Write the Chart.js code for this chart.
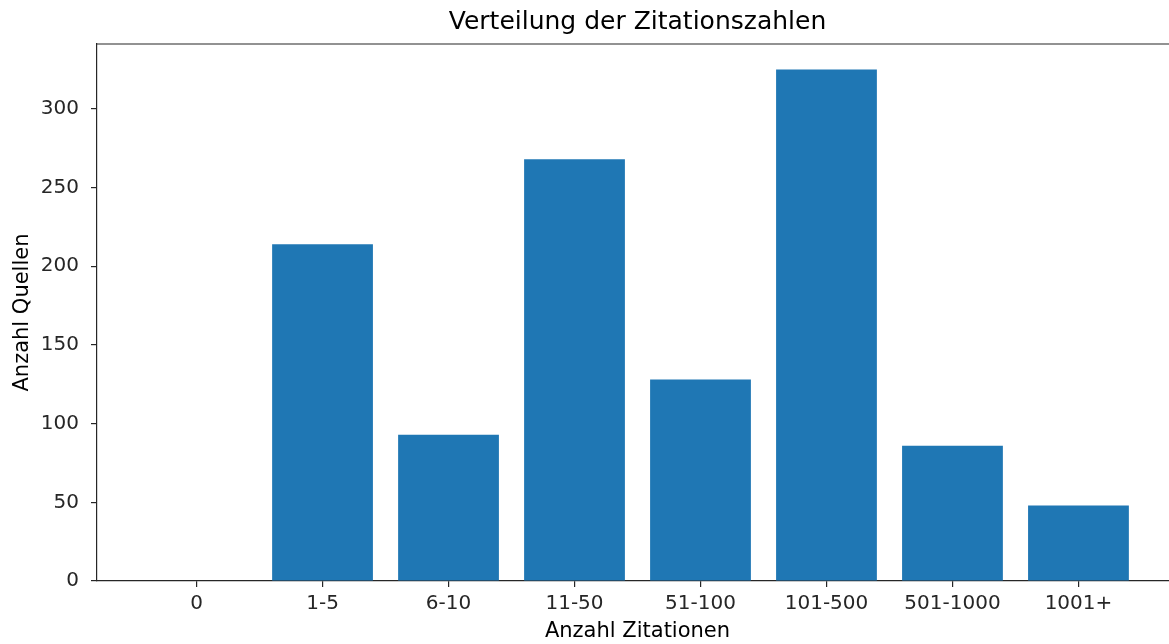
<!DOCTYPE html>
<html>
<head>
<meta charset="utf-8">
<script src="https://cdn.jsdelivr.net/npm/chart.js@4/dist/chart.umd.min.js"></script>
<style>
  html, body { margin: 0; padding: 0; background: #fff; overflow: hidden; }
  #wrap { width: 1178px; height: 644px; }
</style>
</head>
<body>
<div id="wrap"><canvas id="myChart" width="1178" height="644"></canvas></div>
<script>
const categories = ['0', '1-5', '6-10', '11-50', '51-100', '101-500', '501-1000', '1001+'];
const counts = [0, 214, 93, 268, 128, 325, 86, 48];
const yTicks = [0, 50, 100, 150, 200, 250, 300];

const ink = '#262626';
const font = "'DejaVu Sans', sans-serif";

// top + right spine like matplotlib
const frame = {
    id: 'frame',
    afterDraw(chart) {
        const { ctx, chartArea } = chart;
        ctx.save();
        ctx.strokeStyle = ink;
        ctx.lineWidth = 1.2;
        ctx.beginPath();
        ctx.moveTo(chartArea.left, chartArea.top);
        ctx.lineTo(chartArea.right, chartArea.top);
        ctx.lineTo(chartArea.right, chartArea.bottom);
        ctx.stroke();
        ctx.restore();
    }
};

const myChartRef = document.getElementById('myChart').getContext('2d');

new Chart(myChartRef, {
    type: 'bar',
    data: {
        datasets: [{
            label: 'Anzahl Quellen',
            backgroundColor: '#1f77b4',
            borderWidth: 0,
            data: counts.map((v, i) => ({ x: i, y: v })),
            barPercentage: 0.8,
            categoryPercentage: 1.0,
        }]
    },
    options: {
        responsive: false,
        animation: false,
        layout: { padding: 0 },
        plugins: {
            legend: { display: false },
            tooltip: { enabled: false },
            title: {
                display: true,
                fullSize: false,
                text: 'Verteilung der Zitationszahlen',
                color: '#000',
                font: { family: font, size: 25, weight: 'normal' },
                padding: { top: 7, bottom: 7 },
            },
        },
        scales: {
            x: {
                type: 'linear',
                offset: false,
                min: -0.79,
                max: categories.length - 1 + 0.79,
                afterBuildTicks: (s) => {
                    s.ticks = categories.map((c, i) => ({ value: i }));
                },
                afterFit: (s) => { s.height = 63; },
                ticks: {
                    callback: (v) => categories[v],
                    color: ink,
                    font: { family: font, size: 20 },
                    padding: 5,
                    maxRotation: 0,
                    autoSkip: false,
                },
                grid: { offset: false, drawOnChartArea: false, tickLength: 6, color: ink, lineWidth: 1.2 },
                border: { display: true, color: ink, width: 1.2 },
                title: {
                    display: true,
                    text: 'Anzahl Zitationen',
                    color: '#000',
                    font: { family: font, size: 21 },
                    padding: { top: 1, bottom: 0 },
                },
            },
            y: {
                min: 0,
                max: Math.max(...counts) * 1.05,
                afterBuildTicks: (s) => {
                    s.ticks = yTicks.map(v => ({ value: v }));
                },
                afterFit: (s) => { s.width = 97; },
                ticks: {
                    color: ink,
                    font: { family: font, size: 20 },
                    padding: 12,
                },
                grid: { drawOnChartArea: false, tickLength: 6, color: ink, lineWidth: 1.2 },
                border: { display: true, color: ink, width: 1.2 },
                title: {
                    display: true,
                    text: 'Anzahl Quellen',
                    color: '#000',
                    font: { family: font, size: 21 },
                    padding: { top: 10, bottom: 0 },
                },
            },
        },
    },
    plugins: [frame],
});
</script>
</body>
</html>
